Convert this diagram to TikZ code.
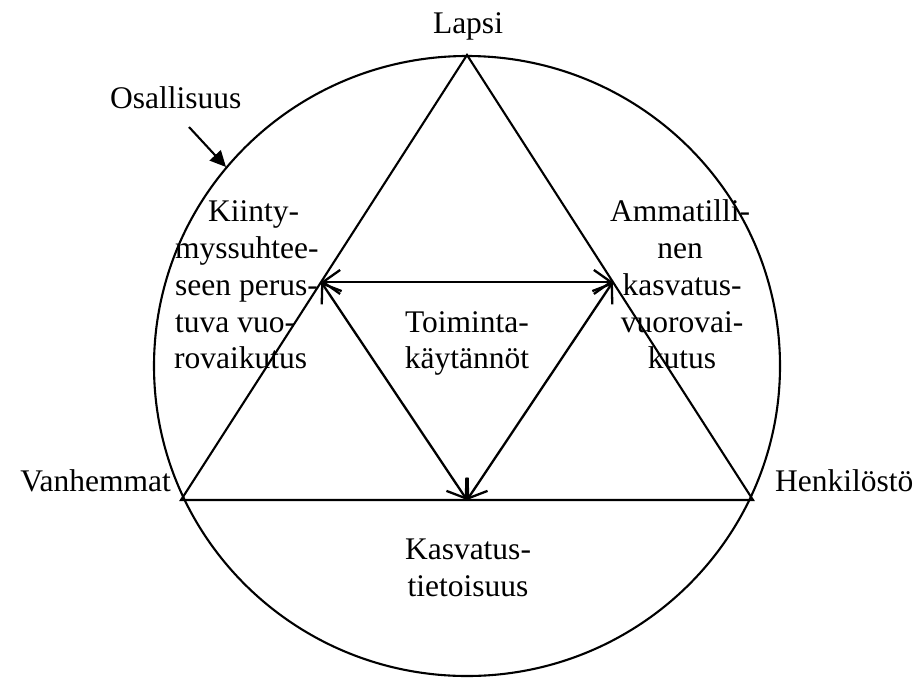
\documentclass[tikz,border=0pt]{standalone}
\usepackage{fontspec}
\setmainfont{Liberation Serif}
\usetikzlibrary{arrows.meta,calc}
\begin{document}
\begin{tikzpicture}[x=1pt,y=-1pt,
  lbl/.style={inner sep=0pt, font=\fontsize{31.5}{36.7}\selectfont},
  edge/.style={line width=2.1pt},
  twoway/.style={line width=2.3pt, {Straight Barb[length=17pt,width=24pt]}-{Straight Barb[length=17pt,width=24pt]}},
  pointer/.style={line width=2.1pt, -{Triangle[length=16pt,width=15pt]}}
]
\useasboundingbox (0,0) rectangle (917,678);
% geometry
\coordinate (A) at (467,55);
\coordinate (L) at (181,500);
\coordinate (R) at (753,500);
\coordinate (O) at (467,366);
\draw[edge] (O) ellipse [x radius=313pt, y radius=310pt];
\draw[edge, line join=miter] (A) -- (L) -- (R) -- cycle;
\coordinate (P) at ($(A)!0.51!(L)$);
\coordinate (Q) at ($(A)!0.51!(R)$);
\coordinate (M) at ($(L)!0.5!(R)$);
\draw[twoway] (P) -- (Q);
\draw[twoway] (P) -- (M);
\draw[twoway] (Q) -- (M);
% pointer
\coordinate (os) at (189,127);
\coordinate (oc) at (226,167);
\draw[pointer] (os) -- (oc);
% labels
\node[lbl, anchor=base] (lapsi) at (468,33) {Lapsi};
\node[lbl, anchor=base west] (osal) at (110,108) {Osallisuus};
\node[lbl, anchor=base east] (vanh) at (171,491) {Vanhemmat};
\node[lbl, anchor=base west] (henk) at (775,491) {Henkilöstö};
% left block
\node[lbl, anchor=base west] (k1) at (208,221) {Kiinty-};
\node[lbl, anchor=base west] (k2) at (175,258) {myssuhtee-};
\node[lbl, anchor=base west] (k3) at (175,295) {seen perus-};
\node[lbl, anchor=base west] (k4) at (175,332) {tuva vuo-};
\node[lbl, anchor=base west] (k5) at (174,368) {rovaikutus};
% right block
\node[lbl, anchor=base] (a1) at (680,221) {Ammatilli-};
\node[lbl, anchor=base] (a2) at (680,258) {nen};
\node[lbl, anchor=base] (a3) at (682,295) {kasvatus-};
\node[lbl, anchor=base] (a4) at (682,332) {vuorovai-};
\node[lbl, anchor=base] (a5) at (682,368) {kutus};
% centre
\node[lbl, anchor=base] (t1) at (467,332) {Toiminta-};
\node[lbl, anchor=base] (t2) at (467,368) {käytännöt};
% bottom
\node[lbl, anchor=base] (b1) at (468,559) {Kasvatus-};
\node[lbl, anchor=base] (b2) at (468,596) {tietoisuus};
\end{tikzpicture}
\end{document}
